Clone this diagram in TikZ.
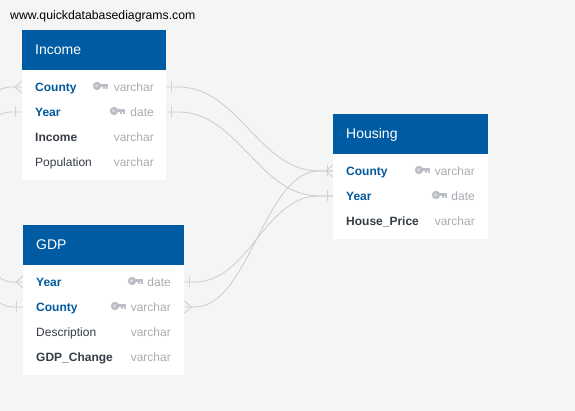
\documentclass[tikz,border=0pt]{standalone}
\usepackage{fontspec}
\setmainfont{Liberation Sans}
\definecolor{bgc}{HTML}{F4F6F6}
\definecolor{headc}{HTML}{005CA2}
\definecolor{keyblue}{HTML}{00599C}
\definecolor{darkc}{HTML}{363D47}
\definecolor{greyc}{HTML}{A8ACB2}
\definecolor{keyc}{HTML}{BCC0C6}
\definecolor{linec}{HTML}{CBCDCD}
\definecolor{barc}{HTML}{D2D4D4}
\tikzset{
  x=1pt,y=-1pt,
  body/.style={fill=white,draw=none,inner sep=0,anchor=north west},
  head/.style={fill=headc,draw=none,inner sep=0,anchor=north west},
  title/.style={anchor=west,inner sep=0,text=white,text height=12pt,text depth=2pt,font=\fontsize{14}{14}\selectfont},
  cell/.style={inner sep=0,text height=10pt,text depth=1.4pt,font=\fontsize{12}{12}\selectfont},
  pk/.style={cell,anchor=west,text=keyblue,font=\fontsize{12}{12}\selectfont\bfseries},
  fb/.style={cell,anchor=west,text=darkc,font=\fontsize{12}{12}\selectfont\bfseries},
  fn/.style={cell,anchor=west,text=darkc},
  ty/.style={cell,anchor=east,text=greyc},
  rel/.style={draw=linec,line width=0.8pt},
  cardmark/.style={draw=barc,line width=1pt},
  keyicon/.pic={
    \fill[keyc] (4,0) circle[radius=4.2];
    \fill[white!55!keyc] (3.4,-0.2) circle[radius=1.4];
    \fill[keyc] (7,-1.9) rectangle (15,1.3);
    \fill[keyc] (10,1) rectangle (12,3.4);
    \fill[keyc] (12.8,1) rectangle (15,2.8);
  }
}
\begin{document}
\begin{tikzpicture}
\useasboundingbox (0,0) rectangle (575,411);
\fill[bgc] (0,0) rectangle (575,411);
\node[inner sep=0,anchor=base west,font=\fontsize{12.25}{12}\selectfont] (url) at (10,20) {www.quickdatabasediagrams.com};
% Income
\node[body,minimum width=144pt,minimum height=110pt] (incbody) at (22,70) {};
\node[head,minimum width=144pt,minimum height=40pt] (inchead) at (22,30) {};
\node[title] (inctitle) at (35,50) {Income};
\node[pk] (incCounty) at (35,87) {County};
\node[pk] (incYear) at (35,112) {Year};
\node[fb] (incIncome) at (35,137) {Income};
\node[fn] (incPop) at (35,162) {Population};
\node[ty] (incCountyT) at (154,87) {varchar};
\node[ty] (incYearT) at (154,112) {date};
\node[ty] (incIncomeT) at (154,137) {varchar};
\node[ty] (incPopT) at (154,162) {varchar};
\pic at (93,86) {keyicon};
\pic at (110,111) {keyicon};
% GDP
\node[body,minimum width=161pt,minimum height=110pt] (gdpbody) at (23,265) {};
\node[head,minimum width=161pt,minimum height=40pt] (gdphead) at (23,225) {};
\node[title] (gdptitle) at (36,245) {GDP};
\node[pk] (gdpYear) at (36,282) {Year};
\node[pk] (gdpCounty) at (36,307) {County};
\node[fn] (gdpDesc) at (36,332) {Description};
\node[fb] (gdpChange) at (36,357) {GDP\_Change};
\node[ty] (gdpYearT) at (171,282) {date};
\node[ty] (gdpCountyT) at (171,307) {varchar};
\node[ty] (gdpDescT) at (171,332) {varchar};
\node[ty] (gdpChangeT) at (171,357) {varchar};
\pic at (128,281) {keyicon};
\pic at (111,306) {keyicon};
% Housing
\node[body,minimum width=155pt,minimum height=85pt] (houbody) at (333,154) {};
\node[head,minimum width=155pt,minimum height=40pt] (houhead) at (333,114) {};
\node[title] (houtitle) at (346,134) {Housing};
\node[pk] (houCounty) at (346,171) {County};
\node[pk] (houYear) at (346,196) {Year};
\node[fb] (houPrice) at (346,221) {House\_Price};
\node[ty] (houCountyT) at (475,171) {varchar};
\node[ty] (houYearT) at (475,196) {date};
\node[ty] (houPriceT) at (475,221) {varchar};
\pic at (415,170) {keyicon};
\pic at (432,195) {keyicon};
% anchors on box edges
\coordinate (a1) at (incCounty -| incbody.east);
\coordinate (a2) at (incYear -| incbody.east);
\coordinate (a3) at (incCounty -| incbody.west);
\coordinate (a4) at (incYear -| incbody.west);
\coordinate (b1) at (gdpYear -| gdpbody.east);
\coordinate (b2) at (gdpCounty -| gdpbody.east);
\coordinate (b3) at (gdpYear -| gdpbody.west);
\coordinate (b4) at (gdpCounty -| gdpbody.west);
\coordinate (c1) at (houCounty -| houbody.west);
\coordinate (c2) at (houYear -| houbody.west);
\coordinate (s1) at (0,89.5);
\coordinate (s2) at (0,114.5);
\coordinate (s3) at (0,278);
\coordinate (s4) at (0,303);
% connectors
\draw[rel] (a1) -- ++(12,0) .. controls +(60,0) and +(-60,0) .. ([xshift=-14]c1) -- (c1);
\draw[rel] (a2) -- ++(12,0) .. controls +(60,0) and +(-60,0) .. ([xshift=-14]c2) -- (c2);
\draw[rel] (b1) -- ++(10,0) .. controls +(55,0) and +(-55,0) .. ([xshift=-14]c2) -- (c2);
\draw[rel] (b2) -- ++(10,0) .. controls +(55,0) and +(-55,0) .. ([xshift=-14]c1) -- (c1);
\draw[rel] (s1) .. controls +(7,-2.5) and +(-5,0) .. ([xshift=-8]a3) -- (a3);
\draw[rel] (s2) .. controls +(7,-2.5) and +(-5,0) .. ([xshift=-8]a4) -- (a4);
\draw[rel] (s3) .. controls +(7,4) and +(-5,0) .. ([xshift=-8]b3) -- (b3);
\draw[rel] (s4) .. controls +(7,4) and +(-5,0) .. ([xshift=-8]b4) -- (b4);
% cardinality marks
\draw[cardmark] ([xshift=5,yshift=-5.5]a1) -- ([xshift=5,yshift=5.5]a1);
\draw[cardmark] ([xshift=5,yshift=-5.5]a2) -- ([xshift=5,yshift=5.5]a2);
\draw[cardmark] ([xshift=5,yshift=-5.5]b1) -- ([xshift=5,yshift=5.5]b1);
\draw[cardmark] ([xshift=-6,yshift=-5.5]c1) -- ([xshift=-6,yshift=5.5]c1);
\draw[cardmark] ([xshift=-6,yshift=-5.5]c2) -- ([xshift=-6,yshift=5.5]c2);
\draw[cardmark] ([xshift=-7,yshift=-5.5]a4) -- ([xshift=-7,yshift=5.5]a4);
\draw[cardmark] ([xshift=-7,yshift=-5.5]b4) -- ([xshift=-7,yshift=5.5]b4);
\draw[cardmark] ([yshift=-6]a3) -- ([xshift=-7]a3) -- ([yshift=6]a3);
\draw[cardmark] ([yshift=-6]b3) -- ([xshift=-7]b3) -- ([yshift=6]b3);
\draw[cardmark] ([yshift=-6]b2) -- ([xshift=7]b2) -- ([yshift=6]b2);
\draw[cardmark] ([yshift=-6]c1) -- ([xshift=-7]c1) -- ([yshift=6]c1);
\end{tikzpicture}
\end{document}
